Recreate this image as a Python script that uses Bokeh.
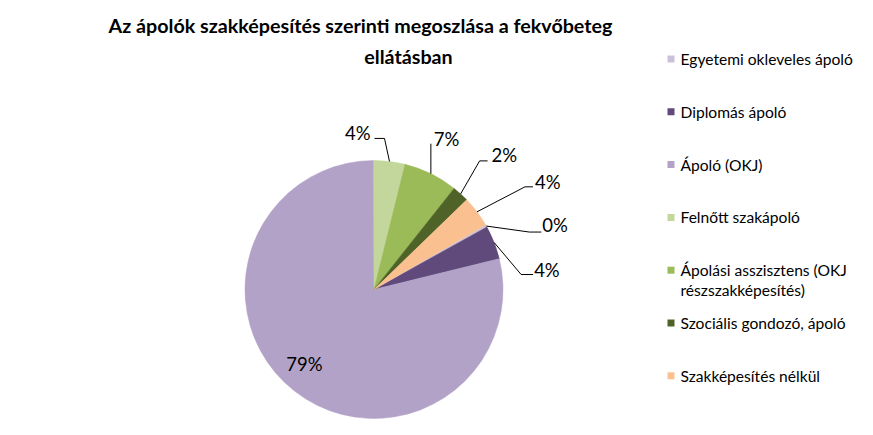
import math
from bokeh.plotting import figure
from bokeh.models import ColumnDataSource
from bokeh.core.properties import value
from bokeh.embed import file_html
from bokeh.resources import INLINE

# ---------------- data ----------------
title_lines = ["Az ápolók szakképesítés szerinti megoszlása a fekvőbeteg", "ellátásban"]
categories = [
    "Egyetemi okleveles ápoló",
    "Diplomás ápoló",
    "Ápoló (OKJ)",
    "Felnőtt szakápoló",
    "Ápolási asszisztens (OKJ részszakképesítés)",
    "Szociális gondozó, ápoló",
    "Szakképesítés nélkül",
]
legend_lines = [
    ["Egyetemi okleveles ápoló"],
    ["Diplomás ápoló"],
    ["Ápoló (OKJ)"],
    ["Felnőtt szakápoló"],
    ["Ápolási asszisztens (OKJ", "részszakképesítés)"],
    ["Szociális gondozó, ápoló"],
    ["Szakképesítés nélkül"],
]
shares = [0.3, 4.2, 78.8, 3.9, 6.8, 2.1, 3.9]

# ---------------- style ----------------
colors = ["#CCC1DA", "#604A7B", "#B3A2C7", "#C3D69B", "#9BBB59", "#4F6228", "#FAC090"]
FONT = "Lato"
W, H = 857, 419


def X(px):
    return px


def Y(py):
    return H - py


CX, CY, R = 373.5, 289.0, 129.0   # pie centre / radius in pixels
FIRST_SLICE_DEG = 60              # clockwise from 12 o'clock

# label layout per slice (screen px, y down, relative to slice edge point at mid-angle)
label_layout = [
    (56, -1, "left", [(43, 6), (55, 6)]),
    (40, 27.5, "left", [(27, 32), (39, 32)]),
    (10, -27, "center", None),
    (-19, -28.5, "right", [(-5, -23), (-15, -23)]),
    (3, -34.5, "left", [(0, -30)]),
    (31, -39, "left", [(19, -33), (27, -33)]),
    (58, -29.5, "left", [(48, -25), (56, -25)]),
]

p = figure(width=W, height=H, x_range=(0, W), y_range=(0, H),
           x_axis_type=None, y_axis_type=None, toolbar_location=None,
           output_backend="svg", min_border=0)
p.grid.visible = False
p.outline_line_color = None
p.background_fill_color = "white"

total = sum(shares)
a = 90 - FIRST_SLICE_DEG
starts, ends, mids = [], [], []
for s in shares:
    sweep = s / total * 360.0
    a_start = a
    a_end = a - sweep
    starts.append(math.radians(a_end))
    ends.append(math.radians(a_start))
    mids.append(math.radians((a_start + a_end) / 2))
    a = a_end

src = ColumnDataSource(dict(x=[X(CX)] * len(shares), y=[Y(CY)] * len(shares),
                            start=starts, end=ends, color=colors))
p.wedge(x="x", y="y", radius=R, radius_units="screen", start_angle="start",
        end_angle="end", direction="anticlock", fill_color="color",
        line_color="color", line_width=0.5, source=src)

# labels and leaders
for grp in ("left", "right", "center"):
    tx, ty, tt = [], [], []
    for i, s in enumerate(shares):
        dx, dy, al, leader = label_layout[i]
        if al != grp:
            continue
        ex = CX + R * math.cos(mids[i])
        ey = CY - R * math.sin(mids[i])
        tx.append(X(ex + dx))
        ty.append(Y(ey + dy))
        tt.append(f"{round(s / total * 100)}%")
    if tx:
        p.text(x=tx, y=ty, text=tt, text_font=value(FONT), text_font_size="18.5px",
               text_align=grp, text_baseline="middle", text_color="#000000")

lxs, lys = [], []
for i, s in enumerate(shares):
    leader = label_layout[i][3]
    if not leader:
        continue
    ex = CX + R * math.cos(mids[i])
    ey = CY - R * math.sin(mids[i])
    lxs.append([X(ex)] + [X(ex + d[0]) for d in leader])
    lys.append([Y(ey)] + [Y(ey + d[1]) for d in leader])
p.multi_line(xs=lxs, ys=lys, line_color="#000000", line_width=1)

# title
p.text(x=[X(360)], y=[Y(25)], text=[title_lines[0]], text_font=value(FONT),
       text_font_size="19.7px", text_font_style="bold", text_align="center",
       text_baseline="middle", text_color="#000000")
p.text(x=[X(408)], y=[Y(56)], text=[title_lines[1]], text_font=value(FONT),
       text_font_size="19.7px", text_font_style="bold", text_align="center",
       text_baseline="middle", text_color="#000000")

# legend
LEG_Y0, LEG_STEP, LINE_STEP = 58.5, 52.8, 20
sq_x, sq_y, tx, ty, tt = [], [], [], [], []
for i, lines in enumerate(legend_lines):
    yc = LEG_Y0 + i * LEG_STEP
    sq_x.append(X(670.5))
    sq_y.append(Y(yc))
    for j, ln in enumerate(lines):
        tx.append(X(680))
        ty.append(Y(yc + j * LINE_STEP))
        tt.append(ln)
p.scatter(x=sq_x, y=sq_y, marker="square", size=7, fill_color=colors, line_color=None)
p.text(x=tx, y=ty, text=tt, text_font=value(FONT), text_font_size="15.6px",
       text_align="left", text_baseline="middle", text_color="#000000")

open("out.html", "w").write(file_html(p, INLINE))
